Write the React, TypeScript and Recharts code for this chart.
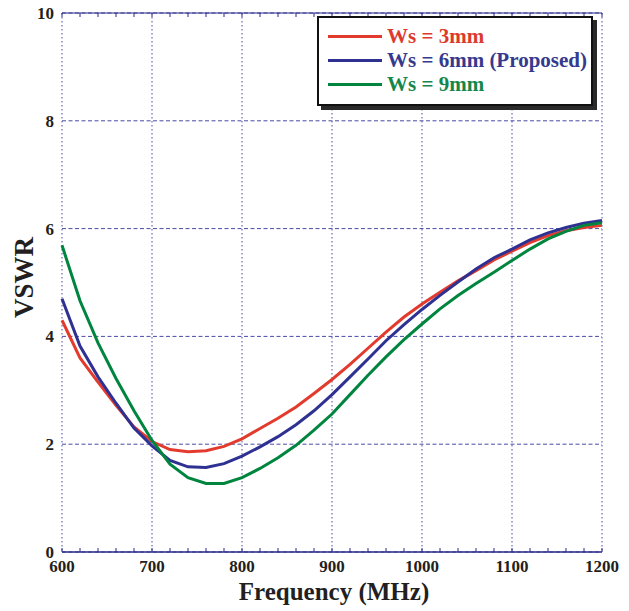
import React from 'react';
import {
  LineChart,
  Line,
  XAxis,
  YAxis,
  CartesianGrid,
  Legend,
  Label
} from 'recharts';

const FREQ = [
  600, 620, 640, 660, 680, 700, 720, 740, 760, 780, 800, 820, 840, 860, 880, 900,
  920, 940, 960, 980, 1000, 1020, 1040, 1060, 1080, 1100, 1120, 1140, 1160, 1180, 1200
];

const WS3 = [
  4.30, 3.60, 3.15, 2.72, 2.32, 2.05, 1.90, 1.86, 1.88, 1.96, 2.10, 2.29, 2.48, 2.69, 2.94, 3.20,
  3.48, 3.78, 4.08, 4.36, 4.60, 4.82, 5.03, 5.22, 5.42, 5.58, 5.74, 5.87, 5.96, 6.02, 6.06
];

const WS6 = [
  4.70, 3.82, 3.25, 2.76, 2.30, 1.97, 1.70, 1.58, 1.57, 1.64, 1.78, 1.95, 2.14, 2.36, 2.62, 2.92,
  3.25, 3.58, 3.92, 4.22, 4.50, 4.76, 5.01, 5.25, 5.46, 5.62, 5.79, 5.92, 6.02, 6.10, 6.15
];

const WS9 = [
  5.69, 4.66, 3.88, 3.22, 2.62, 2.07, 1.63, 1.38, 1.27, 1.27, 1.38, 1.55, 1.75, 1.98, 2.26, 2.56,
  2.92, 3.28, 3.62, 3.94, 4.23, 4.51, 4.76, 4.98, 5.19, 5.41, 5.62, 5.81, 5.95, 6.06, 6.11
];

const X_MAJOR = [600, 700, 800, 900, 1000, 1100, 1200];
const X_MINOR = [
  600, 620, 640, 660, 680, 700, 720, 740, 760, 780, 800, 820, 840, 860, 880, 900,
  920, 940, 960, 980, 1000, 1020, 1040, 1060, 1080, 1100, 1120, 1140, 1160, 1180, 1200
];
const Y_TICKS = [0, 2, 4, 6, 8, 10];

const SERIES = [
  { key: 'ws3', name: 'Ws = 3mm', color: '#e23b2e', text: '#dc3a2c' },
  { key: 'ws6', name: 'Ws = 6mm (Proposed)', color: '#2e3192', text: '#363a8e' },
  { key: 'ws9', name: 'Ws = 9mm', color: '#00853f', text: '#15874a' }
];

const data = FREQ.map((f, i) => ({ f, ws3: WS3[i], ws6: WS6[i], ws9: WS9[i] }));

const FONT = '"Liberation Serif", "Times New Roman", serif';
const GRID = '#4a4aa6';
const AXIS = '#2a2a8a';
const INK = '#231f20';

// bottom axis: inward minor tick + label on the 100 MHz ticks
const BottomTick = ({ x, y, payload }: any) => (
  <g>
    <line x1={x} x2={x} y1={y} y2={y - 4} stroke={AXIS} strokeWidth={1} />
    {X_MAJOR.includes(payload.value) && (
      <text
        x={x}
        y={y + 8}
        dy="0.71em"
        textAnchor="middle"
        fill={INK}
        style={{ fontFamily: FONT, fontWeight: 'bold', fontSize: 17 }}
      >
        {payload.value}
      </text>
    )}
  </g>
);

const TopTick = ({ x, y }: any) => (
  <line x1={x} x2={x} y1={y} y2={y + 4} stroke={AXIS} strokeWidth={1} />
);

const NoTick = () => <g />;

function LegendBox() {
  return (
    <div
      style={{
        width: 272,
        height: 80,
        border: '2px solid #111',
        background: '#fff',
        boxShadow: '4px 4px 0 #2a2a2a',
        fontFamily: FONT,
        fontWeight: 'bold',
        fontSize: 21,
        paddingTop: 6,
        boxSizing: 'content-box'
      }}
    >
      {SERIES.map((s) => (
        <div key={s.key} style={{ display: 'flex', alignItems: 'center', height: 24 }}>
          <div style={{ width: 54, height: 3, background: s.color, marginLeft: 9, marginRight: 5 }} />
          <span style={{ color: s.text, lineHeight: '22px', whiteSpace: 'nowrap' }}>{s.name}</span>
        </div>
      ))}
    </div>
  );
}

export default function App() {
  return (
    <div style={{ position: 'absolute', left: 0, top: 0, width: 629, height: 611, background: '#fff' }}>
      <LineChart
        width={629}
        height={611}
        data={data}
        margin={{ top: 0, right: 27, bottom: 0, left: 0 }}
      >
        <CartesianGrid
          xAxisId="grid"
          yAxisId="left"
          vertical={false}
          stroke={GRID}
          strokeDasharray="4 2.5"
        />
        <CartesianGrid
          xAxisId="grid"
          yAxisId="left"
          horizontal={false}
          stroke={GRID}
          strokeDasharray="1.5 2.5"
        />
        <XAxis
          xAxisId="top"
          orientation="top"
          dataKey="f"
          type="number"
          domain={[600, 1200]}
          ticks={X_MINOR}
          interval={0}
          height={13}
          tickSize={0}
          tickMargin={0}
          tickLine={false}
          tick={<TopTick />}
          axisLine={{ stroke: AXIS, strokeWidth: 1 }}
        />
        <XAxis
          xAxisId="grid"
          orientation="top"
          dataKey="f"
          type="number"
          domain={[600, 1200]}
          ticks={X_MAJOR}
          interval={0}
          height={0}
          tick={<NoTick />}
          tickLine={false}
          axisLine={false}
        />
        <XAxis
          xAxisId="main"
          orientation="bottom"
          dataKey="f"
          type="number"
          domain={[600, 1200]}
          ticks={X_MINOR}
          interval={0}
          height={59}
          tickSize={0}
          tickMargin={0}
          tickLine={false}
          tick={<BottomTick />}
          axisLine={{ stroke: AXIS, strokeWidth: 1.3 }}
        >
          <Label
            content={({ viewBox }: any) => (
              <text
                x={viewBox.x + viewBox.width / 2 + 2}
                y={600}
                textAnchor="middle"
                fill={INK}
                style={{ fontFamily: FONT, fontWeight: 'bold', fontSize: 25 }}
              >
                Frequency (MHz)
              </text>
            )}
          />
        </XAxis>
        <YAxis
          yAxisId="left"
          domain={[0, 10]}
          ticks={Y_TICKS}
          width={62}
          axisLine={false}
          tickLine={false}
          tick={{ fill: INK, fontFamily: FONT, fontWeight: 'bold', fontSize: 17 }}
        >
          <Label
            content={({ viewBox }: any) => (
              <text
                x={33}
                y={viewBox.y + viewBox.height / 2 - 5}
                textAnchor="middle"
                fill={INK}
                transform={`rotate(-90, 33, ${viewBox.y + viewBox.height / 2 - 5})`}
                style={{ fontFamily: FONT, fontWeight: 'bold', fontSize: 27 }}
              >
                VSWR
              </text>
            )}
          />
        </YAxis>
        <YAxis
          yAxisId="right"
          orientation="right"
          domain={[0, 10]}
          ticks={Y_TICKS}
          width={0}
          tick={false}
          tickLine={false}
          axisLine={false}
        />
        <Legend
          layout="horizontal"
          verticalAlign="middle"
          align="center"
          content={() => <LegendBox />}
          wrapperStyle={{ position: 'absolute', left: 317, top: 16, width: 'auto' }}
        />
        {SERIES.map((s) => (
          <Line
            key={s.key}
            xAxisId="main"
            yAxisId="left"
            type="linear"
            dataKey={s.key}
            name={s.name}
            stroke={s.color}
            strokeWidth={3}
            dot={false}
            isAnimationActive={false}
          />
        ))}
      </LineChart>
    </div>
  );
}
